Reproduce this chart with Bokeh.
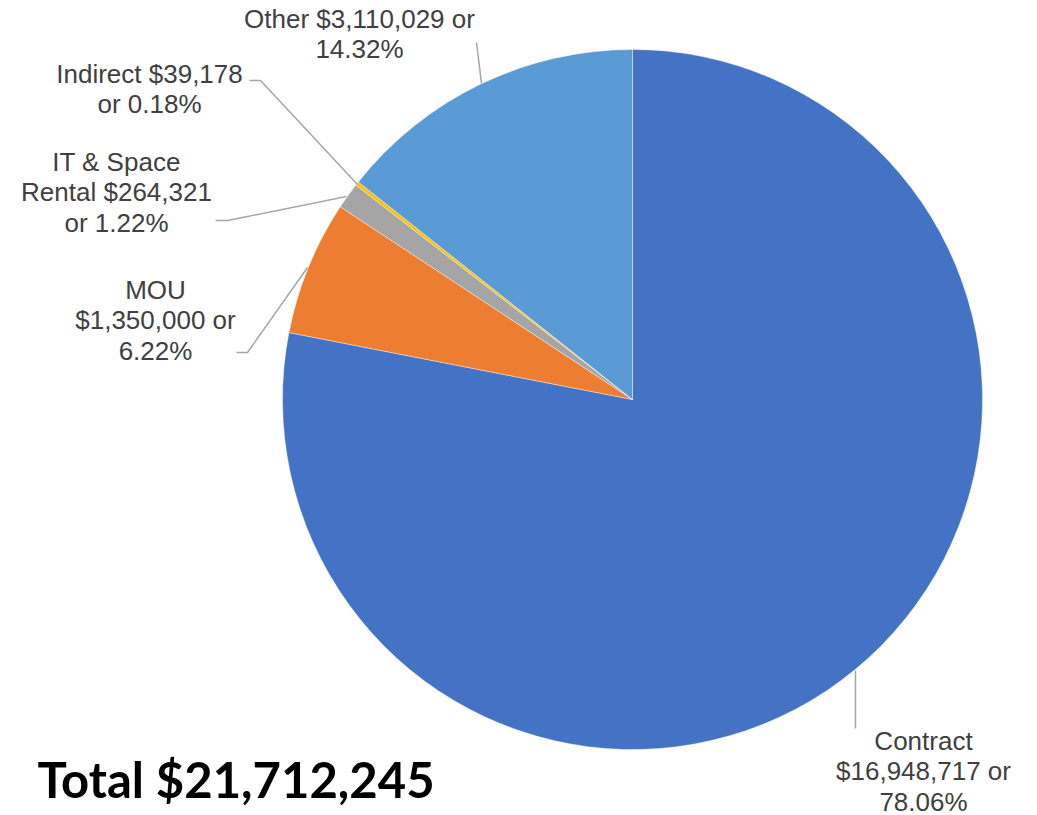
from math import pi
from bokeh.plotting import figure
from bokeh.models import Range1d, ColumnDataSource
from bokeh.core.properties import value
from bokeh.embed import file_html
from bokeh.resources import INLINE

# ---- data ----
categories = ["Contract", "MOU", "IT & Space Rental", "Indirect", "Other"]
amounts = [16948717, 1350000, 264321, 39178, 3110029]
percents = ["78.06%", "6.22%", "1.22%", "0.18%", "14.32%"]
colors = ["#4472C4", "#ED7D31", "#A5A5A5", "#FFC000", "#5B9BD5"]
total_label = "Total $21,712,245"

# label lines (text content per category)
label_lines = [
    ["Contract", "$16,948,717 or", "78.06%"],
    ["MOU", "$1,350,000 or", "6.22%"],
    ["IT & Space", "Rental $264,321", "or 1.22%"],
    ["Indirect $39,178", "or 0.18%"],
    ["Other $3,110,029 or", "14.32%"],
]

# ---- layout (page pixel coordinates) ----
W, H = 1037, 815
def Y(py):
    return H - py

cx, cy, R = 632, 399, 350
label_centers_x = [923, 155, 116, 149, 359]
label_first_baseline = [740, 289, 161, 73, 18]
line_step = 30.5
leaders = [
    [(855, 670), (855, 728)],
    [(236, 352), (247, 352), (307, 267)],
    [(215, 220), (227, 220), (346, 196)],
    [(249, 80), (260, 80), (357, 184)],
    [(476, 42), (481, 83)],
]

p = figure(width=W, height=H, output_backend="svg", toolbar_location=None,
           tools="", x_range=Range1d(0, W), y_range=Range1d(0, H),
           min_border=0, outline_line_color=None, background_fill_color="white")
p.xaxis.visible = False
p.yaxis.visible = False
p.grid.visible = False

tot = sum(amounts)
starts, ends = [], []
cum = 0.0
for a in amounts:
    s = pi / 2 - 2 * pi * cum / tot
    cum += a
    e = pi / 2 - 2 * pi * cum / tot
    starts.append(e)
    ends.append(s)

src = ColumnDataSource(dict(start=starts, end=ends, color=colors, cat=categories))
p.wedge(x=cx, y=Y(cy), radius=R, start_angle="start", end_angle="end",
        fill_color="color", line_color="white", line_width=0.4, source=src)

# leader lines
for pts in leaders:
    p.line([q[0] for q in pts], [Y(q[1]) for q in pts], line_color="#A6A6A6", line_width=1.5)

# labels
xs, ys, ts = [], [], []
for lines, lx, b in zip(label_lines, label_centers_x, label_first_baseline):
    for i, t in enumerate(lines):
        xs.append(lx)
        ys.append(Y(b + i * line_step))
        ts.append(t)
p.text(x=xs, y=ys, text=ts, text_align="center", text_baseline="alphabetic",
       text_font=value("Liberation Sans"), text_font_size="26px", text_color="#404040")

p.text(x=[37], y=[Y(778)], text=[total_label], text_align="left", text_baseline="alphabetic",
       text_font=value("Lato"), text_font_style="bold", text_font_size="49px", text_color="#000000")

open("out.html", "w").write(file_html(p, INLINE))
